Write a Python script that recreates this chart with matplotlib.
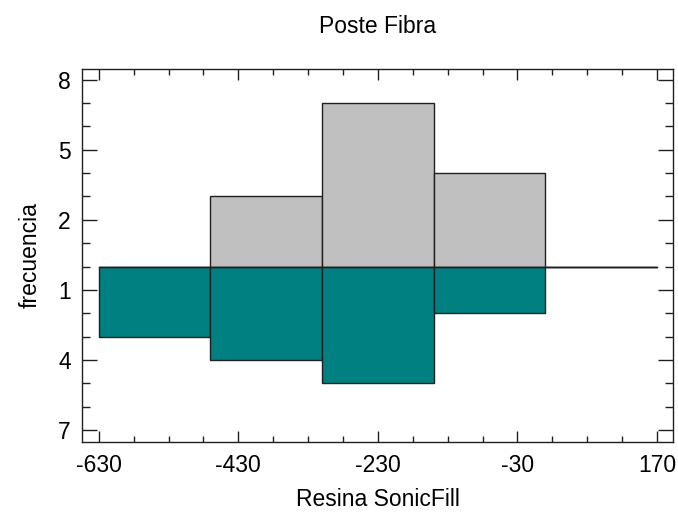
import numpy as np
import matplotlib.pyplot as plt
from matplotlib.ticker import MultipleLocator, FixedLocator

# -----------------------------
# Data (back-to-back histogram)
# -----------------------------

bin_edges = [-630, -470, -310, -150, 10, 170]
poste_fibra = [0, 3, 7, 4, 0]        # upper, grey
resina_sonicfill = [3, 4, 5, 2, 0]   # lower, teal

y_ticks = [8, 5, 2, -1, -4, -7]
y_tick_labels = ["8", "5", "2", "1", "4", "7"]
x_ticks = [-630, -430, -230, -30, 170]

# -----------------------------
# Plot
# -----------------------------

plt.rcParams["font.family"] = ["Liberation Sans", "DejaVu Sans"]
plt.rcParams["axes.unicode_minus"] = False

fig = plt.figure(figsize=(6.78, 5.12), dpi=100)
ax = fig.add_axes([0.121, 0.137, 0.8716, 0.7282])

left = np.array(bin_edges[:-1])
width = np.diff(bin_edges)

ax.bar(left, poste_fibra, width=width, align="edge",
       color="#c0c0c0", edgecolor="#202020", linewidth=1.0)
ax.bar(left, -np.array(resina_sonicfill), width=width, align="edge",
       color="#008080", edgecolor="#202020", linewidth=1.0)

# baseline
ax.plot([bin_edges[0], bin_edges[-1]], [0, 0], color="#202020", linewidth=1.0)

ax.set_xlim(-654, 193)
ax.set_ylim(-7.5, 8.45)

ax.xaxis.set_major_locator(FixedLocator(x_ticks))
ax.xaxis.set_minor_locator(FixedLocator(np.arange(x_ticks[0], x_ticks[-1] + 1, 50)))
ax.set_yticks(y_ticks)
ax.set_yticklabels(y_tick_labels)
ax.yaxis.set_minor_locator(MultipleLocator(1))

ax.tick_params(axis="both", which="both", direction="in",
               top=True, right=True, color="#202020", width=1.0,
               labelsize=16.5)
ax.tick_params(axis="y", which="major", length=11, pad=8)
ax.tick_params(axis="y", which="minor", length=5.5)
ax.tick_params(axis="x", which="major", length=8, pad=9)
ax.tick_params(axis="x", which="minor", length=4)

for s in ax.spines.values():
    s.set_color("#202020")
    s.set_linewidth(1.0)

# -----------------------------
# Labels
# -----------------------------

ax.set_title("Poste Fibra", fontsize=16.5, pad=26)
ax.set_xlabel("Resina SonicFill", fontsize=16.5, labelpad=8)
ax.set_ylabel("frecuencia", fontsize=16.5, labelpad=12)

plt.savefig("out.png", dpi=100)
